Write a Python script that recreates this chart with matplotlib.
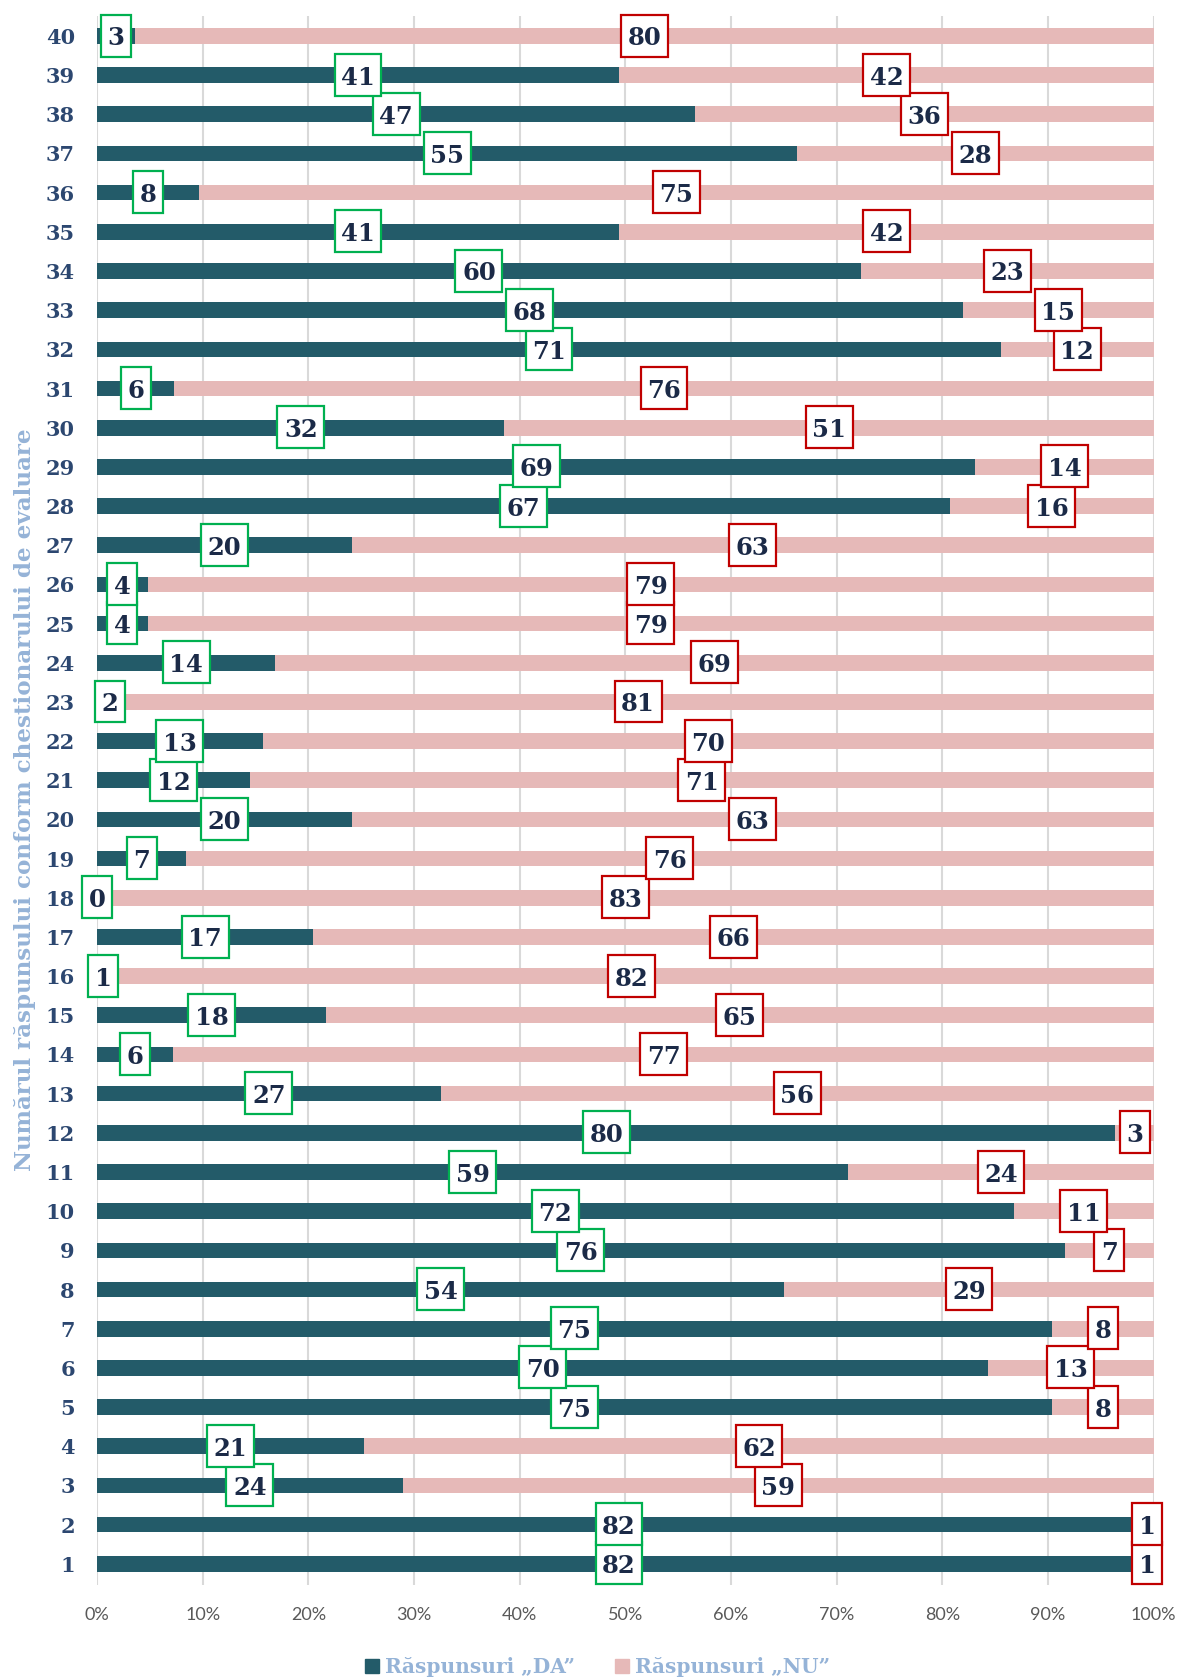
import matplotlib
matplotlib.use("Agg")
import matplotlib.pyplot as plt
import numpy as np
from matplotlib.patches import Patch
from matplotlib.path import Path

categories = [str(i) for i in range(1, 41)]
da = [82, 82, 24, 21, 75, 70, 75, 54, 76, 72, 59, 80, 27, 6, 18, 1, 17, 0, 7, 20,
      12, 13, 2, 14, 4, 4, 20, 67, 69, 32, 6, 71, 68, 60, 41, 8, 55, 47, 41, 3]
nu = [1, 1, 59, 62, 8, 13, 8, 29, 7, 11, 24, 3, 56, 77, 65, 82, 66, 83, 76, 63,
      71, 70, 81, 69, 79, 79, 63, 16, 14, 51, 76, 12, 15, 23, 42, 75, 28, 36, 42, 80]
xticks = [0, 10, 20, 30, 40, 50, 60, 70, 80, 90, 100]
series_names = ["Răspunsuri „DA”", "Răspunsuri „NU”"]
ylabel = "Numărul răspunsului conform chestionarului de evaluare"

C_DA = "#235B69"
C_NU = "#E6B9B8"
C_TXT = "#1B2A47"
C_TICK = "#2C4770"
C_LIGHT = "#95B3D7"
SERIF = ["DejaVu Serif"]


class RectPad:
    """Rectangular box with separate horizontal / top / bottom padding."""
    def __init__(self, padx, pad_top, pad_bottom):
        self.padx = padx
        self.pad_top = pad_top
        self.pad_bottom = pad_bottom

    def __call__(self, x0, y0, width, height, mutation_size):
        px = self.padx * mutation_size
        xa, ya = x0 - px, y0 - self.pad_bottom * mutation_size
        xb, yb = x0 + width + px, y0 + height + self.pad_top * mutation_size
        return Path([(xa, ya), (xb, ya), (xb, yb), (xa, yb), (xa, ya)],
                    [Path.MOVETO, Path.LINETO, Path.LINETO, Path.LINETO, Path.CLOSEPOLY])


da_a = np.array(da, float)
nu_a = np.array(nu, float)
tot = da_a + nu_a
da_p = da_a / tot * 100
nu_p = nu_a / tot * 100
y = np.arange(1, 41)

fig = plt.figure(figsize=(11.83, 16.8), dpi=100)
ax = fig.add_axes([0.0820, 0.0566, 0.8932, 0.9339])

ax.barh(y, da_p, height=0.4, color=C_DA, zorder=2)
ax.barh(y, nu_p, left=da_p, height=0.4, color=C_NU, zorder=2)

box = RectPad(0.27, 0.49, 0.25)
for yi, d, n, dp, np_ in zip(y, da, nu, da_p, nu_p):
    ax.text(dp / 2, yi, str(d), ha="center", va="center_baseline", fontsize=17.5,
            fontweight="bold", family=SERIF, color=C_TXT, zorder=5,
            bbox=dict(boxstyle=box, fc="white", ec="#00B050", lw=1.6))
    ax.text(dp + np_ / 2, yi, str(n), ha="center", va="center_baseline", fontsize=17.5,
            fontweight="bold", family=SERIF, color=C_TXT, zorder=5,
            bbox=dict(boxstyle=box, fc="white", ec="#C00000", lw=1.6))

ax.set_xlim(0, 100)
ax.set_ylim(0.46, 40.51)
ax.set_xticks(xticks)
ax.set_xticklabels([f"{t}%" for t in xticks], family=["Lato"], fontsize=13, color="#595959")
ax.set_yticks(y)
ax.set_yticklabels(categories, family=SERIF, fontweight="bold", fontsize=15, color=C_TICK)
ax.tick_params(axis="both", length=0)
ax.tick_params(axis="y", pad=16)
ax.tick_params(axis="x", pad=16)
ax.grid(axis="x", color="#D9D9D9", lw=1.5, zorder=0)
ax.set_axisbelow(True)
for s in ax.spines.values():
    s.set_visible(False)

fig.text(0.021, 0.5238, ylabel, rotation=90, ha="center", va="center",
         family=SERIF, fontweight="bold", fontsize=16.6, color=C_LIGHT)

handles = [Patch(color=C_DA), Patch(color=C_NU)]
leg = fig.legend(handles, series_names, loc="center", bbox_to_anchor=(0.505, 0.0077),
                 ncol=2, frameon=False, handlelength=0.7, handleheight=0.7,
                 handletextpad=0.3, columnspacing=2.0,
                 prop=dict(family=SERIF, weight="bold", size=14.5))
for t in leg.get_texts():
    t.set_color(C_LIGHT)

fig.savefig("out.png", dpi=100, facecolor="white")
